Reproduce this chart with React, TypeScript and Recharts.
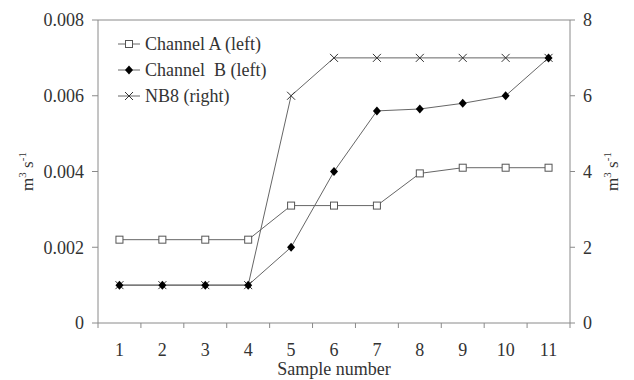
import React from 'react';
import { LineChart, Line, XAxis, YAxis, ReferenceLine } from 'recharts';

const samples = [1, 2, 3, 4, 5, 6, 7, 8, 9, 10, 11];
const channelA = [0.0022, 0.0022, 0.0022, 0.0022, 0.0031, 0.0031, 0.0031, 0.00395, 0.0041, 0.0041, 0.0041];
const channelB = [0.001, 0.001, 0.001, 0.001, 0.002, 0.004, 0.0056, 0.00565, 0.0058, 0.006, 0.007];
const nb8 = [1, 1, 1, 1, 6, 7, 7, 7, 7, 7, 7];
const leftTicks = [0, 0.002, 0.004, 0.006, 0.008];
const rightTicks = [0, 2, 4, 6, 8];

const data = samples.map((s, i) => ({ sample: s, a: channelA[i], b: channelB[i], nb8: nb8[i] }));

const FONT = '"Liberation Serif", "Times New Roman", serif';
const AXIS = '#8a8a8a';
const LINE = '#666';
const TEXT = '#333';
const BAND = 472 / 11;

const SquareDot = (p: any) => {
  if (p.cx == null) return <g key={p.key} />;
  return <rect key={p.key} x={p.cx - 3.5} y={p.cy - 3.5} width={7} height={7} fill="#fff" stroke="#555" strokeWidth={1} />;
};

const DiamondDot = (p: any) => {
  if (p.cx == null) return <g key={p.key} />;
  const { cx, cy } = p;
  return <path key={p.key} d={`M${cx},${cy - 4.5}L${cx + 4},${cy}L${cx},${cy + 4.5}L${cx - 4},${cy}Z`} fill="#000" />;
};

const CrossDot = (p: any) => {
  if (p.cx == null) return <g key={p.key} />;
  const { cx, cy } = p;
  return (
    <path key={p.key} d={`M${cx - 4},${cy - 4}L${cx + 4},${cy + 4}M${cx + 4},${cy - 4}L${cx - 4},${cy + 4}`} stroke="#333" strokeWidth={1} fill="none" />
  );
};

const SampleTick = ({ x, y, payload, index }: any) => (
  <g>
    <line x1={x - BAND / 2} x2={x - BAND / 2} y1={y} y2={y + 5} stroke={AXIS} />
    {index === samples.length - 1 && <line x1={x + BAND / 2} x2={x + BAND / 2} y1={y} y2={y + 5} stroke={AXIS} />}
    <text x={x} y={y + 33} textAnchor="middle" fill={TEXT} fontSize={18} fontFamily={FONT}>
      {payload.value}
    </text>
  </g>
);

const UnitLabel = ({ viewBox, bx }: any) => {
  const x = viewBox.x + bx;
  const cy = viewBox.y + viewBox.height / 2;
  return (
    <text transform={`rotate(-90 ${x} ${cy})`} x={x} y={cy} textAnchor="middle" fill={TEXT} fontSize={17} fontFamily={FONT}>
      m<tspan dy={-7} fontSize={11}>3</tspan>
      <tspan dy={7}> s</tspan>
      <tspan dy={-7} fontSize={11}>-1</tspan>
    </text>
  );
};

const legendItems = [
  { label: 'Channel A (left)', Dot: SquareDot },
  { label: 'Channel  B (left)', Dot: DiamondDot },
  { label: 'NB8 (right)', Dot: CrossDot },
];

const LegendBox = () => (
  <div style={{ position: 'absolute', left: 117, top: 31, fontFamily: FONT, fontSize: 18, color: TEXT, lineHeight: '26px' }}>
    {legendItems.map(({ label, Dot }) => (
      <div key={label} style={{ display: 'flex', alignItems: 'center', height: 26 }}>
        <svg width={26} height={12} style={{ marginRight: 2 }}>
          <line x1={1} x2={23} y1={6} y2={6} stroke={LINE} />
          {Dot({ cx: 12, cy: 6, key: label })}
        </svg>
        <span style={{ whiteSpace: 'pre' }}>{label}</span>
      </div>
    ))}
  </div>
);

export default function App() {
  return (
    <div style={{ position: 'absolute', left: 0, top: 0, width: 634, height: 380, background: '#fff' }}>
      <LineChart width={634} height={380} data={data} margin={{ top: 20, right: 0, bottom: 0, left: 0 }}>
        <XAxis
          dataKey="sample"
          type="number"
          domain={[0.5, 11.5]}
          ticks={samples}
          height={57}
          stroke={AXIS}
          tickLine={false}
          tickSize={0}
          tickMargin={0}
          tick={SampleTick}
          label={{ value: 'Sample number', position: 'insideBottom', offset: 5, fill: TEXT, fontSize: 18, fontFamily: FONT }}
        />
        <YAxis
          yAxisId="left"
          domain={[0, 0.008]}
          ticks={leftTicks}
          width={98}
          stroke={AXIS}
          tickSize={6}
          tickMargin={8}
          tick={{ fill: TEXT, fontSize: 18, fontFamily: FONT }}
          label={(props: any) => <UnitLabel {...props} bx={33} />}
        />
        <YAxis
          yAxisId="right"
          orientation="right"
          domain={[0, 8]}
          ticks={rightTicks}
          width={64}
          stroke={AXIS}
          tickSize={5}
          tickMargin={8}
          tick={{ fill: TEXT, fontSize: 18, fontFamily: FONT }}
          label={(props: any) => <UnitLabel {...props} bx={48} />}
        />
        <ReferenceLine yAxisId="left" y={0.008} stroke={AXIS} />
        <Line yAxisId="left" dataKey="a" stroke={LINE} strokeWidth={1} dot={SquareDot} isAnimationActive={false} />
        <Line yAxisId="right" dataKey="nb8" stroke={LINE} strokeWidth={1} dot={CrossDot} isAnimationActive={false} />
        <Line yAxisId="left" dataKey="b" stroke={LINE} strokeWidth={1} dot={DiamondDot} isAnimationActive={false} />
      </LineChart>
      <LegendBox />
    </div>
  );
}
